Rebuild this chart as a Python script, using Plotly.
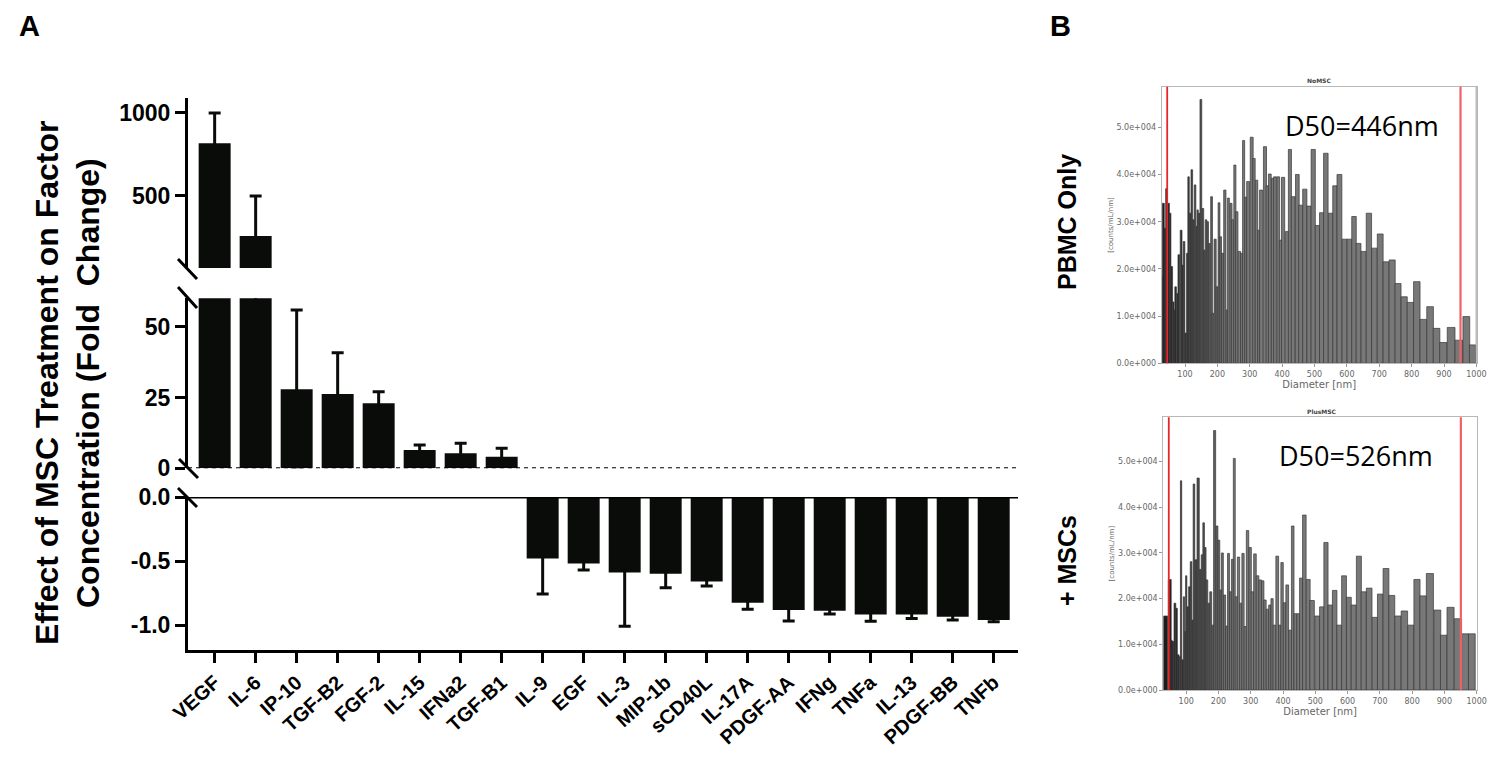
import plotly.graph_objects as go

# ---------------- Panel A data ----------------
factors = ["VEGF", "IL-6", "IP-10", "TGF-B2", "FGF-2", "IL-15", "IFNa2", "TGF-B1",
           "IL-9", "EGF", "IL-3", "MIP-1b", "sCD40L", "IL-17A", "PDGF-AA", "IFNg",
           "TNFa", "IL-13", "PDGF-BB", "TNFb"]
fold_change = [818, 259, 27.9, 26.2, 23.0, 6.5, 5.3, 4.1,
               -0.48, -0.52, -0.59, -0.60, -0.66, -0.825, -0.883, -0.888,
               -0.917, -0.917, -0.935, -0.96]
sem = [182, 241, 28.0, 14.6, 4.0, 1.7, 3.5, 3.0,
       0.278, 0.05, 0.42, 0.108, 0.035, 0.052, 0.086, 0.026,
       0.054, 0.031, 0.025, 0.014]

top_range = [66.3, 1090]
mid_range = [0, 60]
low_range = [-1.195, 0]
top_ticks = [500, 1000]
mid_ticks = [0, 25, 50]
low_ticks = [0.0, -0.5, -1.0]
low_ticktext = ["0.0", "-0.5", "-1.0"]

# ---------------- Panel B data ----------------
pbmc_diam = [26, 33, 38, 43, 49, 54, 59, 64, 67, 71, 77, 81, 88, 92, 97, 102, 107, 111, 116, 121,
             126, 131, 136, 139, 144, 149, 155, 160, 165, 170, 175, 182, 186, 193, 199, 205, 210,
             216, 223, 230, 234, 242, 247, 254, 260, 268, 275, 281, 288, 295, 306, 313, 321, 328,
             335, 347, 354, 362, 371, 378, 388, 395, 403, 415, 424, 434, 447, 457, 470, 483, 496,
             509, 522, 535, 550, 563, 577, 593, 608, 622, 636, 652, 668, 685, 703, 721, 740, 758,
             777, 796, 816, 836, 857, 877, 898, 922, 946, 969, 988]
pbmc_conc = [1.84e4, 3.39e4, 2.86e4, 3.70e4, 3.39e4, 3.18e4, 2.05e4, 1.30e4, 1.13e4, 1.62e4,
             1.48e4, 2.30e4, 2.82e4, 2.08e4, 2.58e4, 0.64e4, 2.33e4, 3.95e4, 3.18e4, 4.10e4,
             3.04e4, 3.78e4, 2.90e4, 3.25e4, 3.18e4, 5.59e4, 3.28e4, 2.40e4, 3.04e4, 3.00e4,
             2.54e4, 3.53e4, 1.06e4, 2.63e4, 1.62e4, 3.40e4, 2.68e4, 2.33e4, 3.67e4, 1.13e4,
             3.50e4, 3.39e4, 3.04e4, 4.20e4, 3.21e4, 2.37e4, 2.33e4, 4.72e4, 3.52e4, 3.85e4,
             4.79e4, 4.34e4, 3.88e4, 2.82e4, 3.67e4, 4.59e4, 3.76e4, 4.01e4, 3.92e4, 3.95e4,
             3.95e4, 2.61e4, 3.94e4, 2.79e4, 4.53e4, 3.53e4, 4.00e4, 3.35e4, 3.69e4, 3.33e4,
             4.53e4, 2.92e4, 3.19e4, 4.45e4, 3.18e4, 3.76e4, 4.00e4, 2.63e4, 2.63e4, 3.11e4,
             2.54e4, 2.37e4, 3.18e4, 2.44e4, 2.74e4, 2.15e4, 2.19e4, 1.69e4, 1.41e4, 1.29e4,
             1.73e4, 0.93e4, 1.20e4, 0.74e4, 0.44e4, 0.76e4, 0.49e4, 0.99e4, 0.39e4]

msc_diam = [36, 49, 54, 59, 65, 70, 75, 81, 84, 89, 93, 97, 100, 105, 110, 115, 120, 124, 130,
            137, 144, 149, 154, 159, 164, 170, 176, 182, 188, 195, 201, 207, 212, 219, 225, 231,
            237, 243, 249, 255, 262, 269, 276, 283, 290, 298, 305, 313, 321, 329, 337, 344, 352,
            359, 366, 373, 382, 390, 397, 405, 413, 422, 430, 438, 447, 456, 466, 478, 490, 506,
            520, 533, 546, 560, 574, 589, 604, 619, 635, 650, 667, 685, 701, 719, 737, 756, 776,
            796, 815, 834, 855, 878, 898, 919, 942, 964, 985]
msc_conc = [1.62e4, 2.42e4, 1.09e4, 1.06e4, 1.90e4, 1.79e4, 0.77e4, 0.73e4, 4.58e4, 0.66e4,
            2.04e4, 1.28e4, 2.50e4, 1.82e4, 2.26e4, 2.81e4, 1.53e4, 4.51e4, 2.85e4, 4.64e4,
            2.64e4, 2.96e4, 3.66e4, 3.12e4, 2.41e4, 1.90e4, 2.15e4, 1.42e4, 5.68e4, 3.59e4,
            3.28e4, 2.19e4, 3.00e4, 2.08e4, 1.40e4, 2.99e4, 2.15e4, 2.86e4, 5.07e4, 2.04e4,
            2.91e4, 1.90e4, 2.99e4, 1.39e4, 3.49e4, 3.12e4, 2.15e4, 2.98e4, 2.50e4, 2.41e4,
            2.39e4, 1.97e4, 1.77e4, 1.86e4, 2.00e4, 1.42e4, 2.93e4, 1.42e4, 2.79e4, 1.91e4,
            2.30e4, 1.31e4, 3.59e4, 1.67e4, 1.67e4, 2.45e4, 3.83e4, 2.42e4, 1.96e4, 1.62e4,
            1.82e4, 3.23e4, 1.86e4, 2.18e4, 1.42e4, 2.50e4, 2.03e4, 1.86e4, 2.93e4, 2.15e4,
            2.23e4, 1.59e4, 2.10e4, 2.66e4, 2.07e4, 1.62e4, 1.73e4, 1.42e4, 2.42e4, 2.06e4,
            2.55e4, 1.75e4, 1.20e4, 1.81e4, 1.56e4, 1.23e4, 1.23e4]

hist_yticks = [0, 1e4, 2e4, 3e4, 4e4, 5e4]
hist_yticktext = ["0.0e+000", "1.0e+004", "2.0e+004", "3.0e+004", "4.0e+004", "5.0e+004"]
hist_xticks = [100, 200, 300, 400, 500, 600, 700, 800, 900, 1000]
pbmc_cutoffs = [45, 951]
msc_cutoffs = [46, 951]

# page is 1495x760; the body keeps an 8px margin, so the figure is 1479x744
OFF = 8
W, H = 1495 - 2 * OFF, 760 - 2 * OFF
def px(x):
    return (x - OFF) / W
def py(y):
    return 1 - (y - OFF) / H

FONT = "Liberation Sans"
BAR_COLOR = "#0a0c0a"

fig = go.Figure()
segments = [("y", lambda v: v > top_range[0]), ("y2", lambda v: v > 0), ("y3", lambda v: v < 0)]
for ya, keep in segments:
    idx = [i for i, v in enumerate(fold_change) if keep(v)]
    fig.add_trace(go.Bar(
        x=[factors[i] for i in idx], y=[fold_change[i] for i in idx],
        xaxis="x", yaxis=ya, width=0.78,
        marker=dict(color=BAR_COLOR, line=dict(width=0)),
        error_y=dict(type="data", array=[sem[i] for i in idx],
                     thickness=3, width=6, color=BAR_COLOR),
        showlegend=False, hoverinfo="x+y"))

def widths(c):
    w = []
    for i in range(len(c)):
        if i == 0:
            w.append(c[1] - c[0])
        elif i == len(c) - 1:
            w.append(c[-1] - c[-2])
        else:
            w.append((c[i + 1] - c[i - 1]) / 2)
    return w

def shade(c):
    cols = []
    for d in c:
        t = min(max((d - 40) / 200, 0), 1)
        g = int(28 + t * (120 - 28))
        cols.append(f"rgb({g},{g},{g})")
    return cols

fig.add_trace(go.Bar(x=pbmc_diam, y=pbmc_conc, width=widths(pbmc_diam), xaxis="x2", yaxis="y4",
                     marker=dict(color=shade(pbmc_diam), line=dict(color="#383838", width=0.7)),
                     showlegend=False))
fig.add_trace(go.Bar(x=msc_diam, y=msc_conc, width=widths(msc_diam), xaxis="x3", yaxis="y5",
                     marker=dict(color=shade(msc_diam), line=dict(color="#383838", width=0.7)),
                     showlegend=False))

yax_common = dict(anchor="x", showline=True, linewidth=3, linecolor="black", ticks="outside",
                  ticklen=10, tickwidth=3, tickcolor="black", showgrid=False, zeroline=False,
                  automargin=False,
                  tickfont=dict(family=FONT, size=23, color="black", weight="bold"))

hx_common = dict(showline=True, linecolor="#b8b8b8", linewidth=1, mirror=True, ticks="outside",
                 ticklen=3, tickcolor="#999", showgrid=False, zeroline=False, automargin=False,
                 ticklabeloverflow="allow",
                 tickvals=hist_xticks, tickfont=dict(family="DejaVu Sans", size=8, color="#666"),
                 title=dict(text="Diameter [nm]", font=dict(family="DejaVu Sans", size=10, color="#666"),
                            standoff=2))
hy_common = dict(showline=True, linecolor="#b8b8b8", linewidth=1, mirror=True, ticks="outside",
                 ticklen=3, tickcolor="#999", showgrid=False, zeroline=False, automargin=False,
                 tickvals=hist_yticks, ticktext=hist_yticktext,
                 tickfont=dict(family="DejaVu Sans", size=8, color="#666"),
                 title=dict(text="[counts/mL/nm]", font=dict(family="DejaVu Sans", size=7, color="#666"),
                            standoff=2))

fig.update_layout(
    width=W, height=H, autosize=False, margin=dict(l=0, r=0, t=0, b=0, pad=0),
    paper_bgcolor="white", plot_bgcolor="white", barmode="overlay",
    xaxis=dict(domain=[px(188), px(1018.3)], range=[-0.65, 19.6], anchor="y3", automargin=False,
               showline=True, linewidth=3, linecolor="black", ticks="outside", ticklen=10,
               tickwidth=3, tickcolor="black", tickangle=-42, showgrid=False,
               tickfont=dict(family=FONT, size=20, color="black", weight="bold")),
    yaxis=dict(domain=[py(268), py(98)], range=top_range, tickvals=top_ticks, **yax_common),
    yaxis2=dict(domain=[py(468.3), py(298.3)], range=mid_range, tickvals=mid_ticks, **yax_common),
    yaxis3=dict(domain=[py(650), py(497)], range=low_range, tickvals=low_ticks,
                ticktext=low_ticktext, **yax_common),
    xaxis2=dict(domain=[px(1161.7), px(1476.7)], range=[28, 1001], anchor="y4", **hx_common),
    yaxis4=dict(domain=[py(363.3), py(86.7)], range=[0, 5.86e4], anchor="x2", **hy_common),
    xaxis3=dict(domain=[px(1163.3), px(1477)], range=[29, 1001], anchor="y5", **hx_common),
    yaxis5=dict(domain=[py(690), py(417.3)], range=[0, 5.97e4], anchor="x3", **hy_common),
)

shapes = []
# dotted zero line in middle segment
shapes.append(dict(type="line", xref="paper", yref="y2", x0=px(188), x1=px(1018), y0=0, y1=0,
                   line=dict(color="black", width=2, dash="4px,4px")))
# solid 0.0 line at top of lower segment
shapes.append(dict(type="line", xref="paper", yref="y3", x0=px(188), x1=px(1018), y0=0, y1=0,
                   line=dict(color="black", width=3)))
# axis break slashes
for (x0, y0, x1, y1) in [(178, 259, 197, 279), (178, 287, 197, 308), (179, 459, 198, 478),
                         (178, 488, 197, 507)]:
    shapes.append(dict(type="line", xref="paper", yref="paper", x0=px(x0), y0=py(y0),
                       x1=px(x1), y1=py(y1), line=dict(color="black", width=3)))
# red cut-off lines in histograms
for xr, yr, cuts in [("x2", "y4", pbmc_cutoffs), ("x3", "y5", msc_cutoffs)]:
    for i, c in enumerate(cuts):
        shapes.append(dict(type="line", xref=xr, yref=f"{yr} domain", x0=c, x1=c, y0=0, y1=1,
                           line=dict(color="#e8262a" if i == 0 else "#f06066",
                                     width=1.8 if i == 0 else 2.2)))
# grey right boundary line in top histogram
shapes.append(dict(type="line", xref="x2", yref="y4 domain", x0=1000, x1=1000, y0=0, y1=1,
                   line=dict(color="#a0a0a0", width=1.5)))
fig.update_layout(shapes=shapes)

def note(text, x, y, size, family=FONT, bold=True, angle=0, color="black", yanchor="middle"):
    return dict(text=text, x=px(x), y=py(y), xref="paper", yref="paper", xanchor="center",
                yanchor=yanchor, textangle=angle, showarrow=False,
                font=dict(family=family, size=size, color=color, weight="bold" if bold else "normal"))

ann = [
    note("A", 29, 8, 29, yanchor="top"),
    note("B", 1060, 8, 29, yanchor="top"),
    note("Effect of MSC Treatment on Factor", 47, 383, 32, angle=-90),
    note("Concentration (Fold  Change)", 88, 383, 32, angle=-90),
    note("PBMC Only", 1067, 222, 25, angle=-90),
    note("+ MSCs", 1067, 561, 25, angle=-90),
    note("D50=446nm", 1362, 126, 27, family="Open Sans", bold=False),
    note("D50=526nm", 1356, 455, 27, family="Open Sans", bold=False),
    note("NoMSC", 1319, 80, 6, family="DejaVu Sans", color="#444"),
    note("PlusMSC", 1322, 411, 6, family="DejaVu Sans", color="#444"),
]
fig.update_layout(annotations=ann)

fig.write_html("out.html", config={"displayModeBar": False})
